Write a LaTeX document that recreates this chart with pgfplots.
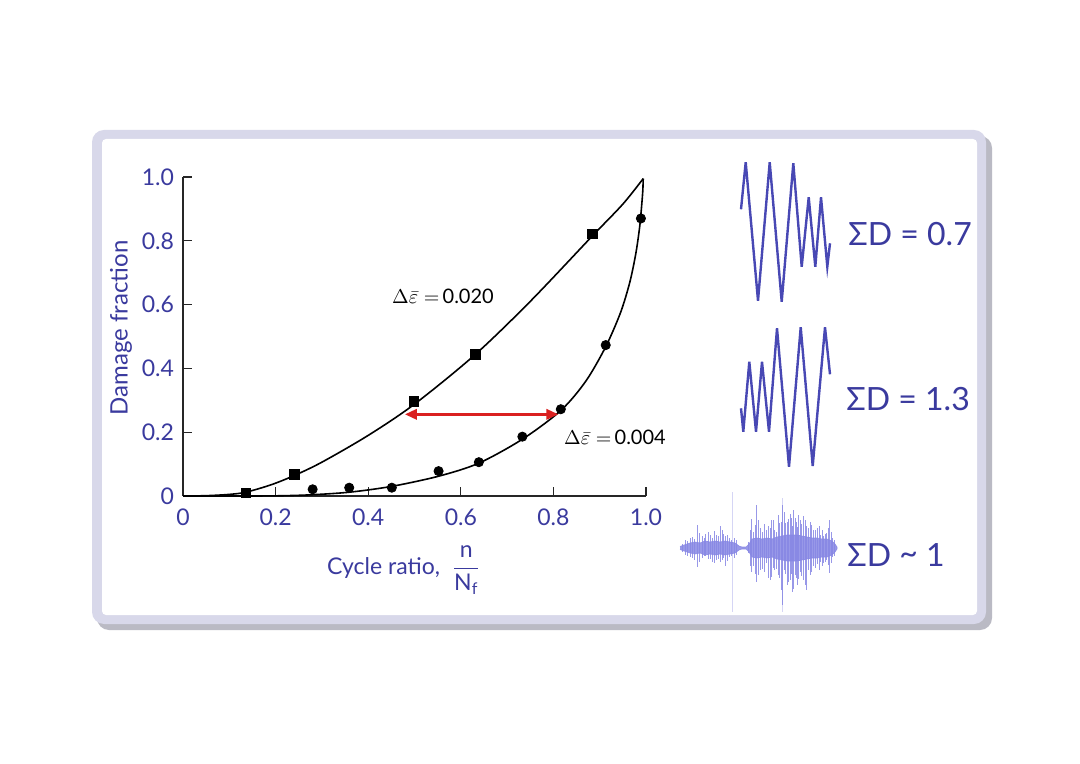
\documentclass[border=0pt]{standalone}
\usepackage{fontspec}
\setmainfont{Lato}
\usepackage{amsmath}
\usepackage{pgfplots}
\pgfplotsset{compat=1.18}
\usetikzlibrary{arrows.meta}
\definecolor{bluetxt}{RGB}{58,58,158}
\definecolor{wave}{RGB}{72,72,180}
\definecolor{noise}{RGB}{135,135,228}
\definecolor{framec}{RGB}{216,216,234}
\definecolor{shadowc}{RGB}{186,186,196}
\definecolor{redarrow}{RGB}{218,32,32}

\pgfplotstableread{
x y
741 209.3
745.7 162.3
758 300.7
769.7 162.3
781.7 301.7
793.3 163.3
801.7 266.7
808.7 197.3
815.3 266.7
821 197.3
827.3 266.7
830 243.3
}\waveA
\pgfplotstableread{
x y
741 408.3
743.3 431.7
749.3 361.7
756 431.7
762 361.7
769 431.7
777 328.3
789 466.7
800.7 327.3
812.7 466
825 327.3
830 374.3
}\waveB
\pgfplotstableread{
x y
680 546.5
684 545
690 543
695 542
700 543
705 541
710 542
715 541
720 542
725 541
730 542
735 543
739 546
742 547
746 547
749 544
752 539
757 538
762 539
767 538
772 539
777 537
782 536
787 535
792 535
797 535
802 536
807 537
812 538
817 538
822 539
827 539
832 541
835 544
837 547
837 549
835 552
832 555
827 557
822 557
817 558
812 558
807 559
802 560
797 561
792 561
787 561
782 560
777 559
772 557
767 558
762 557
757 558
752 557
749 552
746 549
742 549
739 550
735 553
730 554
725 555
720 554
715 555
710 554
705 555
700 553
695 554
690 553
684 551
680 549.5
}\noisebody
\pgfplotstableread{
x y
682 544
682 552
682 nan
685 540
685 555
685 nan
687 541
687 556
687 nan
690 538
690 557
690 nan
692 537
692 558
692 nan
694 539
694 560
694 nan
697.7 525
697.7 567
697.7 nan
699 533
699 562
699 nan
702 536
702 558
702 nan
704 538
704 556
704 nan
705 534
705 556
705 nan
708.3 532
708.3 559
708.3 nan
710 535
710 559
710 nan
712 538
712 562
712 nan
714 531
714 563
714 nan
716 535
716 560
716 nan
718 536
718 559
718 nan
720 526
720 562
720 nan
722 530
722 560
722 nan
723 534
723 558
723 nan
725 536
725 566
725 nan
727 535
727 561
727 nan
729 538
729 557
729 nan
731 540
731 556
731 nan
734 538
734 558
734 nan
736 540
736 555
736 nan
748 542
748 553
748 nan
750 530
750 566
750 nan
751 519
751 572
751 nan
753 532
753 566
753 nan
755 525
755 574
755 nan
756.7 505
756.7 582
756.7 nan
758 520
758 575
758 nan
760 528
760 570
760 nan
762.3 532
762.3 569
762.3 nan
764 524
764 572
764 nan
766 530
766 563
766 nan
768 526
768 578
768 nan
770 528
770 580
770 nan
771.7 520
771.7 577
771.7 nan
773 520
773 568
773 nan
774 530
774 570
774 nan
776.7 532
776.7 569
776.7 nan
778 515
778 575
778 nan
779 523
779 578
779 nan
781 522
781 590
781 nan
782.3 505
782.3 605
782.3 nan
784 512
784 570
784 nan
785 523
785 574
785 nan
787 522
787 585
787 nan
788.3 519
788.3 582
788.3 nan
790 514
790 580
790 nan
791 518
791 574
791 nan
792 526
792 592
792 nan
793.3 510
793.3 589
793.3 nan
795 518
795 575
795 nan
796 522
796 578
796 nan
797 527
797 585
797 nan
798.3 515
798.3 579
798.3 nan
800 520
800 572
800 nan
801 524
801 576
801 nan
803 516
803 580
803 nan
805 520
805 585
805 nan
806 526
806 590
806 nan
808 528
808 570
808 nan
810 522
810 575
810 nan
811.7 525
811.7 572
811.7 nan
813 530
813 566
813 nan
815 530
815 568
815 nan
817 528
817 564
817 nan
819 526
819 570
819 nan
820 535
820 562
820 nan
822 530
822 566
822 nan
823 536
823 563
823 nan
825 534
825 562
825 nan
826 533
826 560
826 nan
828 528
828 565
828 nan
829.3 520
829.3 573
829.3 nan
831 532
831 563
831 nan
832 538
832 557
832 nan
834 540
834 556
}\spikes

\pgfplotstableread{
x y
0 0
0.05 0.001
0.1 0.005
0.136 0.012
0.19 0.035
0.24 0.064
0.3 0.106
0.4 0.19
0.5 0.288
0.63 0.442
0.75 0.61
0.884 0.815
0.95 0.915
0.994 0.995
}\uppercurve
\pgfplotstableread{
x y
0 0
0.15 0
0.22 0.001
0.28 0.004
0.36 0.012
0.45 0.03
0.552 0.062
0.639 0.103
0.733 0.178
0.816 0.268
0.87 0.36
0.913 0.468
0.945 0.575
0.965 0.67
0.978 0.76
0.986 0.84
0.99 0.9
0.993 0.955
0.994 0.995
}\lowercurve
\pgfplotstableread{
x y
0.136 0.010
0.24 0.068
0.499 0.296
0.631 0.444
0.884 0.821
}\squarepts
\pgfplotstableread{
x y
0.28 0.021
0.359 0.026
0.451 0.026
0.552 0.078
0.639 0.106
0.733 0.186
0.816 0.272
0.913 0.473
0.989 0.870
}\circlepts

\begin{document}
\begin{tikzpicture}
\path[use as bounding box, fill=white] (0,0) rectangle (540pt,382pt);
\begin{axis}[at={(0pt,0pt)}, anchor=south west, scale only axis,
  width=540pt, height=382pt, xmin=0, xmax=1080, ymin=0, ymax=764,
  y dir=reverse, axis lines=none, clip=false]
  % frame
  \fill[shadowc, rounded corners=6pt] (axis cs:97,136) rectangle (axis cs:992,630);
  \fill[framec, rounded corners=6pt] (axis cs:92,130) rectangle (axis cs:986,624);
  \fill[white, rounded corners=2pt] (axis cs:102,139) rectangle (axis cs:977,615);
  % waves
  \addplot[wave, line width=1.2pt, line join=miter, mark=none] table {\waveA};
  \addplot[wave, line width=1.2pt, line join=miter, mark=none] table {\waveB};
  \addplot[fill=noise, draw=noise, line width=0.3pt, opacity=0.85, mark=none] table {\noisebody};
  \addplot[noise, line width=0.45pt, opacity=0.85, unbounded coords=jump, mark=none] table {\spikes};
  \addplot[noise, line width=0.3pt, opacity=0.35, mark=none] coordinates {(732.3,492) (732.3,612)};
  \addplot[noise, line width=0.3pt, opacity=0.35, mark=none] coordinates {(782.3,498) (782.3,612)};
  % labels right
  \node[anchor=base west, text=bluetxt, font=\fontsize{16}{19}\selectfont, inner sep=0pt] at (axis cs:848,245.5) {ΣD = 0.7};
  \node[anchor=base west, text=bluetxt, font=\fontsize{16}{19}\selectfont, inner sep=0pt] at (axis cs:846,411) {ΣD = 1.3};
  \node[anchor=base west, text=bluetxt, font=\fontsize{16}{19}\selectfont, inner sep=0pt] at (axis cs:847,566.5) {ΣD \raisebox{0.1ex}{\textasciitilde} 1};
  % axis labels
  \node[rotate=90, text=bluetxt, font=\fontsize{12}{14}\selectfont] at (axis cs:121,328) {Damage fraction};
  \node[anchor=base, text=bluetxt, font=\fontsize{11.5}{13}\selectfont] at (axis cs:404,574) {Cycle ratio, \ $\dfrac{\text{n}}{\text{N}_{\text{f}}}$};
  % annotations
  \node[anchor=center, font=\fontsize{10}{12}\selectfont] at (axis cs:443,296) {$\Delta\bar{\varepsilon}=$\,0.020};
  \node[anchor=center, font=\fontsize{10}{12}\selectfont] at (axis cs:615,437) {$\Delta\bar{\varepsilon}=$\,0.004};
\end{axis}
\begin{axis}[at={(91.5pt,134pt)}, anchor=south west, scale only axis,
  width=231.5pt, height=159.5pt, xmin=0, xmax=1, ymin=0, ymax=1,
  axis x line*=bottom, axis y line*=left, clip=false,
  axis line style={black!85, line width=0.6pt},
  tick style={black!85, line width=0.6pt},
  tick align=inside, major tick length=4.5pt,
  xtick={0,0.2,0.4,0.6,0.8,1.0}, xticklabels={0,0.2,0.4,0.6,0.8,1.0},
  ytick={0,0.2,0.4,0.6,0.8,1.0}, yticklabels={0,0.2,0.4,0.6,0.8,1.0},
  ticklabel style={text=bluetxt, font=\fontsize{11.5}{13}\selectfont},
  xticklabel style={yshift=-3pt},
  yticklabel style={xshift=-1pt},
  ]
  \addplot[black, line width=0.8pt, smooth, mark=none] table {\uppercurve};
  \addplot[black, line width=0.8pt, smooth, mark=none] table {\lowercurve};
  \addplot[only marks, mark=square*, mark size=2.4pt, black] table {\squarepts};
  \addplot[only marks, mark=*, mark size=2.3pt, black] table {\circlepts};
  \draw[redarrow, line width=1.5pt, {Triangle[length=6pt,width=5pt]}-{Triangle[length=6pt,width=5pt]}] (axis cs:0.479,0.256) -- (axis cs:0.811,0.256);
\end{axis}
\end{tikzpicture}
\end{document}
